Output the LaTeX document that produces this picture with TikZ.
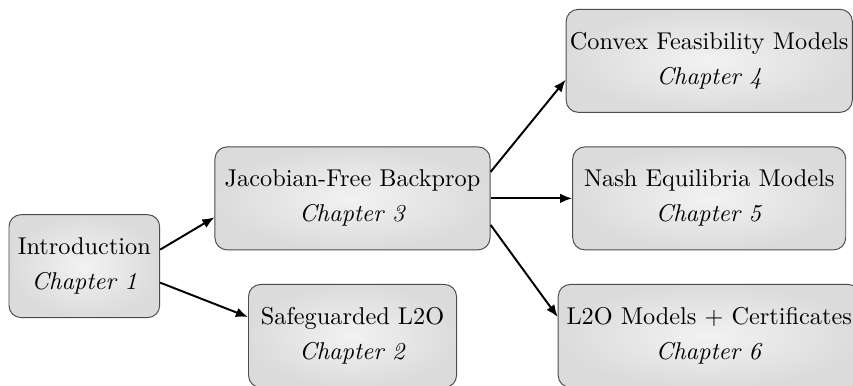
\documentclass[tikz,border=0pt]{standalone}
\usetikzlibrary{arrows.meta}

\begin{document}
\begin{tikzpicture}[node distance=5.16cm, box/.style={rectangle, draw=black!70, rounded corners=5pt, inner color=black!5, outer color=black!14, align=center, minimum height=1.49cm, inner xsep=1pt, execute at begin node=\rule{0pt}{15pt}}, arrow/.style={->, >={Latex[length=5pt, width=4pt]}, thick}]
	\useasboundingbox (0,0) rectangle (12.34,-5.57);

	\node (intro) [box, minimum width=2.18cm] at (1.22,-3.85) {Introduction\\[2.4pt] \textit{Chapter 1}};
	\node (jac) [box, minimum width=3.98cm, right of=intro, node distance=3.88cm, yshift=0.98cm] {Jacobian-Free Backprop\\[2.4pt] \textit{Chapter 3}};
	\node (safe) [box, minimum width=3.01cm, right of=intro, node distance=3.88cm, yshift=-1.01cm] {Safeguarded L2O\\[2.4pt] \textit{Chapter 2}};
	\node (convex) [box, minimum width=4.14cm, right of=jac, yshift=1.99cm] {Convex Feasibility Models\\[2.4pt] \textit{Chapter 4}};
	\node (nash) [box, minimum width=3.95cm, right of=jac] {Nash Equilibria Models\\[2.4pt] \textit{Chapter 5}};
	\node (l2o) [box, minimum width=4.37cm, right of=jac, yshift=-1.99cm] {L2O Models + Certificates\\[2.4pt] \textit{Chapter 6}};

	\draw [arrow] ([yshift=6.8pt]intro.east) -- ([yshift=-7.8pt]jac.west);
	\draw [arrow] ([yshift=-6.8pt]intro.east) -- ([yshift=7.8pt]safe.west);
	\draw [arrow] ([yshift=10.9pt]jac.east) -- ([yshift=-7.8pt]convex.west);
	\draw [arrow] (jac) -- (nash);
	\draw [arrow] ([yshift=-10.9pt]jac.east) -- ([yshift=7.8pt]l2o.west);

	\end{tikzpicture}
\end{document}
